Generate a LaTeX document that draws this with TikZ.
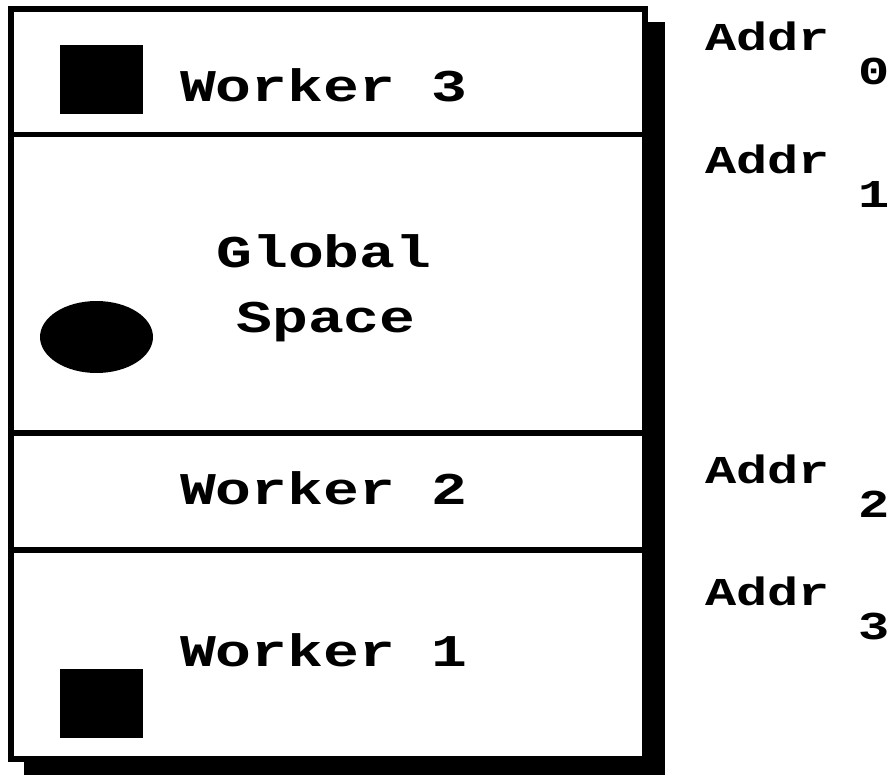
\documentclass[tikz,border=0pt]{standalone}
\usepackage{graphicx}
\usepackage{fontspec}
\setmainfont{Liberation Mono}
\usetikzlibrary{positioning}
\tikzset{
  memframe/.style={draw=black, line width=3.6pt, fill=white},
  divider/.style={draw=black, line width=2.9pt},
  backshadow/.style={fill=black},
  blob/.style={fill=black},
  lbl/.style={font=\fontsize{34}{37}\selectfont\bfseries, inner sep=0pt, anchor=base},
  addr/.style={font=\fontsize{29.6}{32}\selectfont\bfseries, inner sep=0pt, anchor=base west},
}
\newcommand{\squeezetxt}[1]{\scalebox{1}[0.76]{#1}}
\newcommand{\addrsub}[1]{\squeezetxt{Addr\hspace{0.55em}\raisebox{-0.88em}{#1}}}

\begin{document}
\begin{tikzpicture}[x=0.02cm, y=-0.02cm]
  \useasboundingbox (0,0) rectangle (894,775);
  % shadow and frame
  \fill[backshadow] (24,22) rectangle (665,775);
  \draw[memframe] (11,9) rectangle (645,759);
  \draw[divider] (11,134.5) -- (645,134.5);
  \draw[divider] (11,433) -- (645,433);
  \draw[divider] (11,550) -- (645,550);
  % objects
  \fill[blob] (60,45) rectangle (143,114);
  \fill[blob] (96.5,337) ellipse [x radius=1.13cm, y radius=0.72cm];
  \fill[blob] (60,669) rectangle (143,738);
  % region labels
  \node[lbl] (w3) at (323.5,101) {\squeezetxt{Worker 3}};
  \node[lbl] (glob) at (324,267) {\squeezetxt{Global}};
  \node[lbl] (spc) at (326,332) {\squeezetxt{Space}};
  \node[lbl] (w2) at (323.5,504) {\squeezetxt{Worker 2}};
  \node[lbl] (w1) at (323.5,666) {\squeezetxt{Worker 1}};
  % addresses
  \node[addr] (a0) at (705,50)  {\addrsub{0}};
  \node[addr] (a1) at (705,173) {\addrsub{1}};
  \node[addr] (a2) at (705,483) {\addrsub{2}};
  \node[addr] (a3) at (705,605) {\addrsub{3}};
\end{tikzpicture}
\end{document}
